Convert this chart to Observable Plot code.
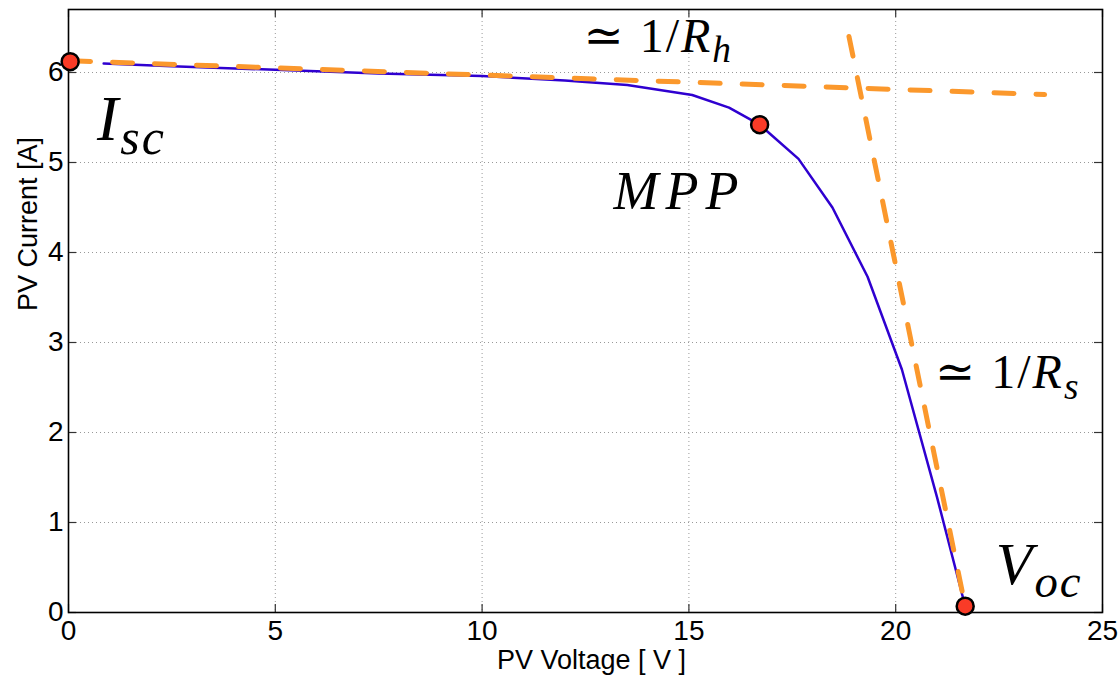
<!DOCTYPE html>
<html>
<head>
<meta charset="utf-8">
<script src="https://cdn.jsdelivr.net/npm/d3@7"></script>
<script src="https://cdn.jsdelivr.net/npm/@observablehq/plot@0.6"></script>
<style>
  html, body { margin: 0; padding: 0; background: #fff; }
  #chart svg { display: block; }
</style>
</head>
<body>
<div id="chart"></div>
<script>
// I–V curve of the PV module
const voltage = [0.85, 2.5, 5, 7.5, 10, 12, 13.51, 15.08, 15.97, 16.71, 17.65, 18.47, 19.32, 20.15, 21.0, 21.68];
const current = [6.10, 6.07, 6.03, 5.99, 5.96, 5.91, 5.86, 5.75, 5.61, 5.42, 5.04, 4.50, 3.73, 2.70, 1.28, 0.07];

// tangent (dashed) lines
const shuntV = [0.05, 23.6];
const shuntI = [6.13, 5.755];
const seriesV = [18.87, 21.68];
const seriesI = [6.40, 0.07];

// key points: Isc, MPP, Voc
const keyV = [0.04, 16.71, 21.68];
const keyI = [6.12, 5.42, 0.07];

// ticks
const xTicks = [0, 5, 10, 15, 20, 25];
const yTicks = [0, 1, 2, 3, 4, 5, 6];

// annotations
const annotText = ["≃ 1/R_h", "I_sc", "MPP", "≃ 1/R_s", "V_oc"];
const annotX = [12.45, 0.69, 13.18, 20.95, 22.42];
const annotY = [6.40, 5.48, 4.67, 2.66, 0.53];
const annotSize = [48, 64, 54, 48, 60];

const xLabel = "PV Voltage [ V ]";
const yLabel = "PV Current [A]";

const curve = voltage.map((v, i) => ({v, i: current[i]}));
const shunt = shuntV.map((v, i) => ({v, i: shuntI[i]}));
const series = seriesV.map((v, i) => ({v, i: seriesI[i]}));
const keys = keyV.map((v, i) => ({v, i: keyI[i]}));

const W = 1119, H = 676;
const mL = 68, mR = 17, mT = 9, mB = 64;
const innerH = H - mT - mB;
const innerW = W - mL - mR;
const tickLen = 8;
const sans = "'Liberation Sans', Arial, Helvetica, sans-serif";
const serif = "'Liberation Serif', 'DejaVu Serif', serif";

const annotMarks = annotText.map((t, k) => Plot.text([{v: annotX[k], i: annotY[k], t}], {
  x: "v", y: "i", text: "t", textAnchor: "start", lineAnchor: "middle",
  fontSize: annotSize[k], fontFamily: serif, fill: "black"
}));

const plot = Plot.plot({
  width: W, height: H,
  marginLeft: mL, marginRight: mR, marginTop: mT, marginBottom: mB,
  x: {domain: [0, 25], ticks: xTicks},
  y: {domain: [0, 6.7], ticks: yTicks},
  style: {fontFamily: sans, background: "white"},
  marks: [
    Plot.gridX(xTicks, {stroke: "#999", strokeOpacity: 1, strokeDasharray: "1,3", strokeWidth: 1}),
    Plot.gridY(yTicks, {stroke: "#999", strokeOpacity: 1, strokeDasharray: "1,3", strokeWidth: 1}),
    // inward ticks on all four sides
    Plot.tickX(xTicks, {x: d => d, insetTop: innerH - tickLen, stroke: "#333", strokeWidth: 1.2}),
    Plot.tickX(xTicks, {x: d => d, insetBottom: innerH - tickLen, stroke: "#333", strokeWidth: 1.2}),
    Plot.tickY(yTicks, {y: d => d, insetRight: innerW - tickLen, stroke: "#333", strokeWidth: 1.2}),
    Plot.tickY(yTicks, {y: d => d, insetLeft: innerW - tickLen, stroke: "#333", strokeWidth: 1.2}),
    Plot.axisX(xTicks, {tickSize: 0, tickPadding: 8, fontSize: 28, fill: "black", label: null, tickFormat: d => String(d)}),
    Plot.axisY(yTicks, {tickSize: 0, tickPadding: 5, fontSize: 28, fill: "black", label: null, tickFormat: d => String(d)}),
    Plot.text([xLabel], {frameAnchor: "bottom", dy: 48, dx: 6, fontSize: 27, fill: "black", lineAnchor: "middle"}),
    Plot.text([yLabel], {frameAnchor: "left", dx: -40, rotate: -90, fontSize: 27, fill: "black", lineAnchor: "middle"}),
    Plot.frame({stroke: "black", strokeWidth: 1.6}),
    Plot.line(curve, {x: "v", y: "i", stroke: "#2f00d0", strokeWidth: 2.5}),
    Plot.line(shunt, {x: "v", y: "i", stroke: "#fb982c", strokeWidth: 5, strokeDasharray: "20,22", strokeLinecap: "round"}),
    Plot.line(series, {x: "v", y: "i", stroke: "#fb982c", strokeWidth: 5, strokeDasharray: "20,22", strokeLinecap: "round"}),
    Plot.dot(keys, {x: "v", y: "i", r: 8.5, fill: "#f93b27", stroke: "black", strokeWidth: 2.5}),
    ...annotMarks
  ]
});

// LaTeX-like styling: italic letters, upright digits/symbols, subscripts
const NS = "http://www.w3.org/2000/svg";
d3.select(plot).selectAll("text").filter(function() {
  return annotText.includes(this.textContent);
}).each(function() {
  const s = this.textContent;
  const [main, sub] = s.split("_");
  while (this.firstChild) this.removeChild(this.firstChild);
  const addRuns = (str, isSub) => {
    let first = true;
    const runs = str.match(/[A-Za-z]+|[^A-Za-z]+/g) || [];
    for (const r of runs) {
      const ts = document.createElementNS(NS, "tspan");
      ts.textContent = r;
      if (/[A-Za-z]/.test(r)) {
        ts.setAttribute("font-style", "italic");
        ts.setAttribute("letter-spacing", isSub ? "2" : (r.length > 1 ? "7" : "2"));
      } else {
        ts.setAttribute("letter-spacing", "2");
      }
      if (isSub) {
        ts.setAttribute("font-size", "0.78em");
        if (first) ts.setAttribute("dy", "0.28em");
      }
      first = false;
      this.appendChild(ts);
    }
  };
  addRuns(main, false);
  if (sub) addRuns(sub, true);
});

document.getElementById("chart").appendChild(plot);
</script>
</body>
</html>
